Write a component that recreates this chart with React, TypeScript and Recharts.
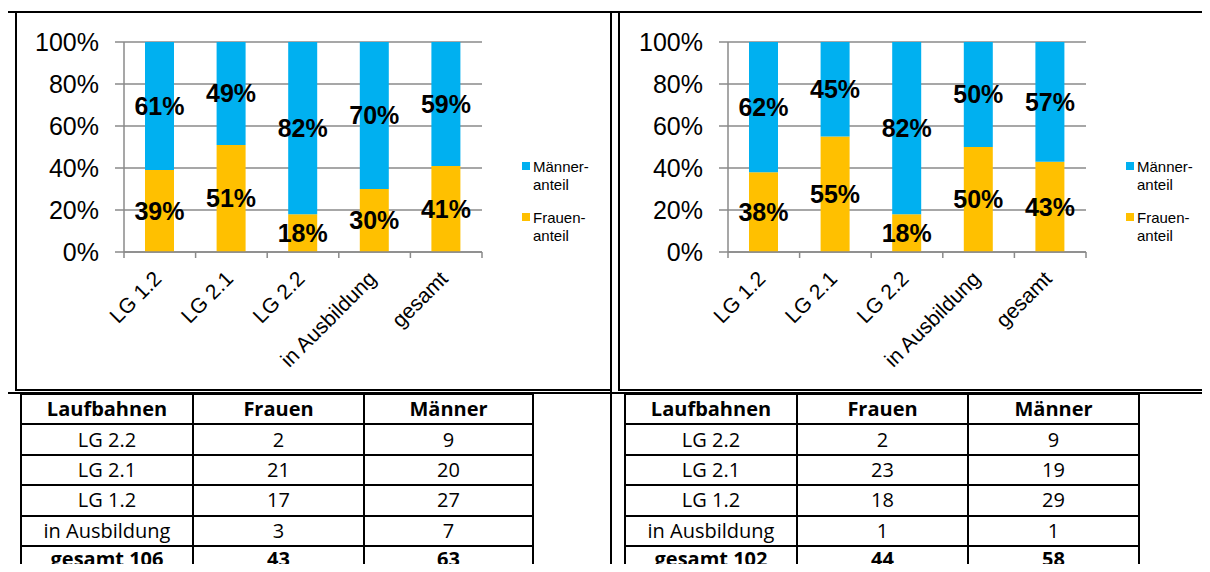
import React from 'react';
import { BarChart, Bar, XAxis, YAxis, CartesianGrid, LabelList, Legend } from 'recharts';

const categories = ['LG 1.2', 'LG 2.1', 'LG 2.2', 'in Ausbildung', 'gesamt'];
const frauenLeft = [39, 51, 18, 30, 41];
const maennerLeft = [61, 49, 82, 70, 59];
const frauenRight = [38, 55, 18, 50, 43];
const maennerRight = [62, 45, 82, 50, 57];
const yTicks = [0, 20, 40, 60, 80, 100];

const tableHeader = ['Laufbahnen', 'Frauen', 'Männer'];
const tableRows = ['LG 2.2', 'LG 2.1', 'LG 1.2', 'in Ausbildung'];
const frauenCountLeft = [2, 21, 17, 3];
const maennerCountLeft = [9, 20, 27, 7];
const totalLeft = ['gesamt 106', '43', '63'];
const frauenCountRight = [2, 23, 18, 1];
const maennerCountRight = [9, 19, 29, 1];
const totalRight = ['gesamt 102', '44', '58'];

const FONT = '"Liberation Sans", Arial, sans-serif';
const TABLE_FONT = '"Open Sans", "Noto Sans", sans-serif';
const GRID = '#8a8a8a';
const BLUE = '#00b0f0';
const ORANGE = '#ffc000';

// category label rotated like Excel, plus the small tick mark on the left band edge
function AngledTick(props: any) {
  const { x, y, payload, index, width, visibleTicksCount } = props;
  const band = width && visibleTicksCount ? width / visibleTicksCount : 71.6;
  const last = index === visibleTicksCount - 1;
  return (
    <g>
      <line x1={x - band / 2} x2={x - band / 2} y1={y} y2={y + 6} stroke={GRID} strokeWidth={1.5} />
      {last && <line x1={x + band / 2} x2={x + band / 2} y1={y} y2={y + 6} stroke={GRID} strokeWidth={1.5} />}
      <g transform={`translate(${x + 3},${y + 28})`}>
        <text textAnchor="end" transform="rotate(-45)" fontSize={21} fontFamily={FONT} fill="#000">
          {payload.value}
        </text>
      </g>
    </g>
  );
}

function renderLegend(props: any) {
  const items = [...(props.payload || [])].reverse();
  return (
    <div style={{ fontFamily: FONT, fontSize: 15, lineHeight: '18.5px', color: '#000' }}>
      {items.map((entry: any, i: number) => {
        const [first, second] = String(entry.value).split('-');
        return (
          <div key={i} style={{ position: 'relative', paddingLeft: 11, marginBottom: 14 }}>
            <span
              style={{ position: 'absolute', left: 0, top: 4.5, width: 8, height: 8, background: entry.color }}
            />
            <div>{first}-</div>
            <div>{second}</div>
          </div>
        );
      })}
    </div>
  );
}

function ShareChart({ frauen, maenner }: { frauen: number[]; maenner: number[] }) {
  const data = categories.map((name, i) => ({ name, frauen: frauen[i], maenner: maenner[i] }));
  const labelStyle = { fontFamily: FONT, fontSize: 25, fontWeight: 700, fill: '#000' };
  return (
    <BarChart
      width={596}
      height={378}
      data={data}
      margin={{ top: 30, right: 129, bottom: 18, left: 0 }}
      barSize={29}
    >
      <CartesianGrid vertical={false} stroke={GRID} strokeWidth={1.5} />
      <XAxis
        dataKey="name"
        height={120}
        interval={0}
        tickSize={0}
        tickMargin={0}
        axisLine={{ stroke: GRID, strokeWidth: 1.5 }}
        tickLine={false}
        tick={<AngledTick />}
      />
      <YAxis
        domain={[0, 100]}
        ticks={yTicks}
        width={109}
        tickSize={9}
        tickMargin={16}
        tickFormatter={(v) => `${v}%`}
        tick={{ fontFamily: FONT, fontSize: 25, fill: '#000' }}
        axisLine={{ stroke: GRID, strokeWidth: 1.5 }}
        tickLine={{ stroke: GRID, strokeWidth: 1.5 }}
      />
      <Legend
        layout="vertical"
        align="center"
        verticalAlign="middle"
        content={renderLegend}
        wrapperStyle={{ left: 507, top: 145.5, width: 90 }}
      />
      <Bar dataKey="frauen" name="Frauen-anteil" stackId="a" fill={ORANGE} isAnimationActive={false}>
        <LabelList dataKey="frauen" position="center" formatter={(v: any) => `${v}%`} style={labelStyle} />
      </Bar>
      <Bar dataKey="maenner" name="Männer-anteil" stackId="a" fill={BLUE} isAnimationActive={false}>
        <LabelList dataKey="maenner" position="center" formatter={(v: any) => `${v}%`} style={labelStyle} />
      </Bar>
    </BarChart>
  );
}

function CountTable({
  left,
  frauen,
  maenner,
  total,
  columns,
}: {
  left: number;
  frauen: number[];
  maenner: number[];
  total: string[];
  columns: string;
}) {
  const cells: { text: string; bold: boolean; last: boolean }[] = [];
  tableHeader.forEach((t) => cells.push({ text: t, bold: true, last: false }));
  tableRows.forEach((r, i) => {
    cells.push({ text: r, bold: false, last: false });
    cells.push({ text: String(frauen[i]), bold: false, last: false });
    cells.push({ text: String(maenner[i]), bold: false, last: false });
  });
  total.forEach((t) => cells.push({ text: t, bold: true, last: true }));
  return (
    <div
      style={{
        position: 'absolute',
        left,
        top: 393,
        display: 'grid',
        gridTemplateColumns: columns,
        gridAutoRows: '28.4px',
        gap: 2,
        padding: 2,
        background: '#000',
      }}
    >
      {cells.map((c, i) => (
        <div
          key={i}
          style={{
            background: '#fff',
            display: 'flex',
            alignItems: c.last ? 'flex-start' : 'center',
            justifyContent: 'center',
            fontFamily: TABLE_FONT,
            fontSize: 20,
            lineHeight: '24px',
            fontWeight: c.bold ? 700 : 400,
            color: '#000',
            whiteSpace: 'nowrap',
          }}
        >
          {c.text}
        </div>
      ))}
    </div>
  );
}

function Rule({ x, y, w, h }: { x: number; y: number; w: number; h: number }) {
  return <div style={{ position: 'absolute', left: x, top: y, width: w, height: h, background: '#000' }} />;
}

export default function App() {
  return (
    <div style={{ position: 'relative', width: 1210, height: 572, margin: -8, overflow: 'hidden', background: '#fff' }}>
      <Rule x={5} y={11} w={1205} h={2} />
      <Rule x={5} y={11} w={2} h={561} />
      <Rule x={14.5} y={11} w={2} h={379} />
      <Rule x={610} y={11} w={2} h={561} />
      <Rule x={618} y={11} w={2} h={379} />
      <Rule x={14.5} y={388.5} w={597.5} h={2} />
      <Rule x={618} y={388.5} w={592} h={2} />
      <Rule x={5} y={392} w={1205} h={2} />

      <div style={{ position: 'absolute', left: 15, top: 12 }}>
        <ShareChart frauen={frauenLeft} maenner={maennerLeft} />
      </div>
      <div style={{ position: 'absolute', left: 619, top: 12 }}>
        <ShareChart frauen={frauenRight} maenner={maennerRight} />
      </div>

      <CountTable left={20} frauen={frauenCountLeft} maenner={maennerCountLeft} total={totalLeft} columns="170px 169px 167px" />
      <CountTable left={624} frauen={frauenCountRight} maenner={maennerCountRight} total={totalRight} columns="170px 169px 169px" />
    </div>
  );
}
